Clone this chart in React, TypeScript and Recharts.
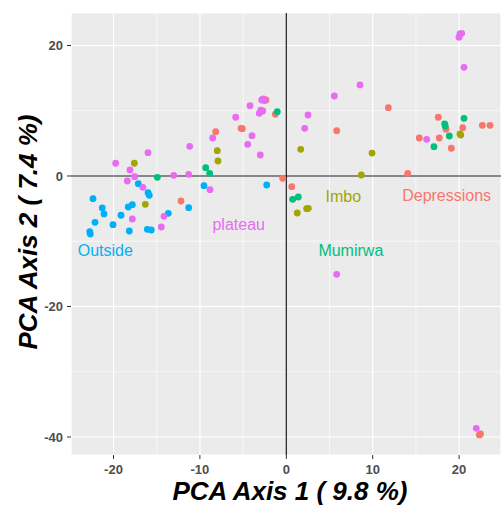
import React from "react";
import {
  ScatterChart,
  Scatter,
  XAxis,
  YAxis,
  CartesianGrid,
  ReferenceLine,
} from "recharts";

// ---- data (PCA scores) ----
const depressionsX = [-8.17, -12.19, -2.35, -1.27, -5.24, -5.09, -0.42, 0.63, 5.83, 14.05, 11.81, 17.59, 18.48, 20.42, 22.69, 23.58, 15.39, 17.71, 19.1, 22.34, 22.48];
const depressionsY = [6.79, -3.83, 11.65, 9.46, 7.31, 7.25, -0.35, -1.64, 6.94, 0.41, 10.47, 9.0, 7.16, 7.4, 7.77, 7.77, 5.82, 5.82, 4.25, -39.69, -39.54];

const imboX = [-17.59, -7.99, -7.91, -16.32, 1.67, 1.27, 2.36, 2.55, 8.68, 9.92, 20.1, 20.19];
const imboY = [1.95, 3.88, 2.3, -4.34, 4.09, -5.67, -5.01, -4.95, 0.15, 3.52, 6.44, 6.28];

const mumirwaX = [-14.93, -9.33, -8.87, -1.04, 0.74, 1.39, 20.57, 18.33, 18.4, 18.87, 17.09];
const mumirwaY = [-0.2, 1.27, 0.41, 9.85, -3.57, -3.22, 8.84, 7.97, 7.66, 6.13, 4.49];

const outsideX = [-17.13, -16.0, -15.86, -9.53, -22.37, -21.3, -21.1, -18.29, -17.82, -11.3, -19.13, -22.14, -20.06, -13.66, -22.75, -22.69, -18.17, -16.09, -15.63, -2.27];
const outsideY = [-1.18, -2.56, -2.96, -1.49, -3.48, -4.9, -5.82, -4.75, -4.4, -4.86, -6.02, -7.1, -7.46, -5.72, -8.54, -8.89, -8.43, -8.17, -8.28, -1.38];

const plateauX = [-8.52, -11.18, -16.01, -19.75, -18.09, -17.55, -18.4, -13.03, -11.3, -16.59, -8.83, -17.82, -14.16, -14.47, 5.56, -4.2, -2.85, -2.66, -2.52, -2.96, -2.73, -3.13, 2.51, -5.86, 2.13, -3.97, -4.47, -3.01, 20.1, 20.3, 19.99, 20.57, 8.53, 16.25, 5.83, 21.99];
const plateauY = [5.82, 4.55, 3.57, 1.95, 0.92, -0.11, -0.77, 0.11, 0.26, -1.73, -2.1, -6.59, -6.18, -7.82, 12.26, 10.77, 11.65, 11.8, 11.57, 10.11, 9.96, 9.61, 9.35, 9.0, 7.31, 6.18, 4.86, 3.22, 21.76, 21.87, 21.26, 16.66, 13.95, 5.62, -15.07, -38.67];

// group labels placed in data space
const labelNames = ["Outside", "plateau", "Imbo", "Depressions", "Mumirwa"];
const labelX = [-20.95, -5.51, 6.6, 18.56, 7.47];
const labelY = [-11.45, -7.36, -3.07, -3.01, -11.49];
const labelColors = ["#00B0F6", "#E76BF3", "#A3A500", "#F8766D", "#00BF7D"];

const xTicks = [-20, -10, 0, 10, 20];
const yTicks = [-40, -20, 0, 20];
const xMinor = [-15, -5, 5, 15];
const yMinor = [-30, -10, 10];

const xTitle = "PCA Axis 1 ( 9.8 %)";
const yTitle = "PCA Axis 2 ( 7.4 %)";

const zip = (xs: number[], ys: number[]) => xs.map((x, i) => ({ x, y: ys[i] }));

const groups = [
  { name: "Depressions", color: "#F8766D", data: zip(depressionsX, depressionsY) },
  { name: "Imbo", color: "#A3A500", data: zip(imboX, imboY) },
  { name: "Mumirwa", color: "#00BF7D", data: zip(mumirwaX, mumirwaY) },
  { name: "Outside", color: "#00B0F6", data: zip(outsideX, outsideY) },
  { name: "plateau", color: "#E76BF3", data: zip(plateauX, plateauY) },
];

const labelData = labelNames.map((n, i) => ({ x: labelX[i], y: labelY[i], name: n, color: labelColors[i] }));

const FONT = "'Liberation Sans', Arial, sans-serif";

const dot = (color: string) => (props: any) => (
  <circle cx={props.cx} cy={props.cy} r={3.4} fill={color} />
);

const labelShape = (props: any) => (
  <text
    x={props.cx}
    y={props.cy}
    textAnchor="middle"
    dominantBaseline="central"
    fill={props.payload.color}
    fontSize={16}
    fontFamily={FONT}
  >
    {props.payload.name}
  </text>
);

const tickStyle = { fill: "#4D4D4D", fontSize: 13, fontWeight: "bold", fontFamily: FONT };

export default function App() {
  return (
    <div style={{ position: "absolute", left: 0, top: 0, width: 501, height: 511, background: "#fff" }}>
      <ScatterChart
        width={501}
        height={511}
        margin={{ top: 13, right: 0, bottom: 0, left: 0 }}
        style={{ fontFamily: FONT }}
      >
        <CartesianGrid fill="#EBEBEB" stroke="#FFFFFF" strokeWidth={1.2} />
        {xMinor.map((v) => (
          <ReferenceLine key={"xm" + v} x={v} stroke="#FFFFFF" strokeWidth={0.6} />
        ))}
        {yMinor.map((v) => (
          <ReferenceLine key={"ym" + v} y={v} stroke="#FFFFFF" strokeWidth={0.6} />
        ))}
        <ReferenceLine x={0} stroke="#1a1a1a" strokeWidth={1.2} />
        <ReferenceLine y={0} stroke="#1a1a1a" strokeWidth={1.2} />
        <XAxis
          type="number"
          dataKey="x"
          domain={[-24.92, 24.85]}
          ticks={xTicks}
          allowDataOverflow
          axisLine={false}
          tickLine={{ stroke: "#333333" }}
          tickSize={4}
          tickMargin={6}
          tick={tickStyle}
          height={56}
          label={{
            content: (p: any) => {
              const vb = p.viewBox;
              return (
                <text
                  x={vb.x + vb.width / 2 + 4}
                  y={vb.y + 45}
                  textAnchor="middle"
                  fontSize={26}
                  fontWeight="bold"
                  fontStyle="italic"
                  fontFamily={FONT}
                  fill="#000"
                >
                  {xTitle}
                </text>
              );
            },
          }}
        />
        <YAxis
          type="number"
          dataKey="y"
          domain={[-42.76, 24.98]}
          ticks={yTicks}
          allowDataOverflow
          axisLine={false}
          tickLine={{ stroke: "#333333" }}
          tickSize={4}
          tickMargin={4}
          tick={tickStyle}
          width={71}
          label={{
            content: (p: any) => {
              const vb = p.viewBox;
              const cx = vb.x + 28;
              const cy = vb.y + vb.height / 2 - 2;
              return (
                <text
                  x={cx}
                  y={cy}
                  transform={`rotate(-90 ${cx} ${cy})`}
                  textAnchor="middle"
                  dominantBaseline="central"
                  fontSize={26}
                  fontWeight="bold"
                  fontStyle="italic"
                  fontFamily={FONT}
                  fill="#000"
                >
                  {yTitle}
                </text>
              );
            },
          }}
        />
        {groups.map((g) => (
          <Scatter
            key={g.name}
            name={g.name}
            data={g.data}
            fill={g.color}
            shape={dot(g.color)}
            isAnimationActive={false}
          />
        ))}
        <Scatter name="labels" data={labelData} shape={labelShape} isAnimationActive={false} />
      </ScatterChart>
    </div>
  );
}
